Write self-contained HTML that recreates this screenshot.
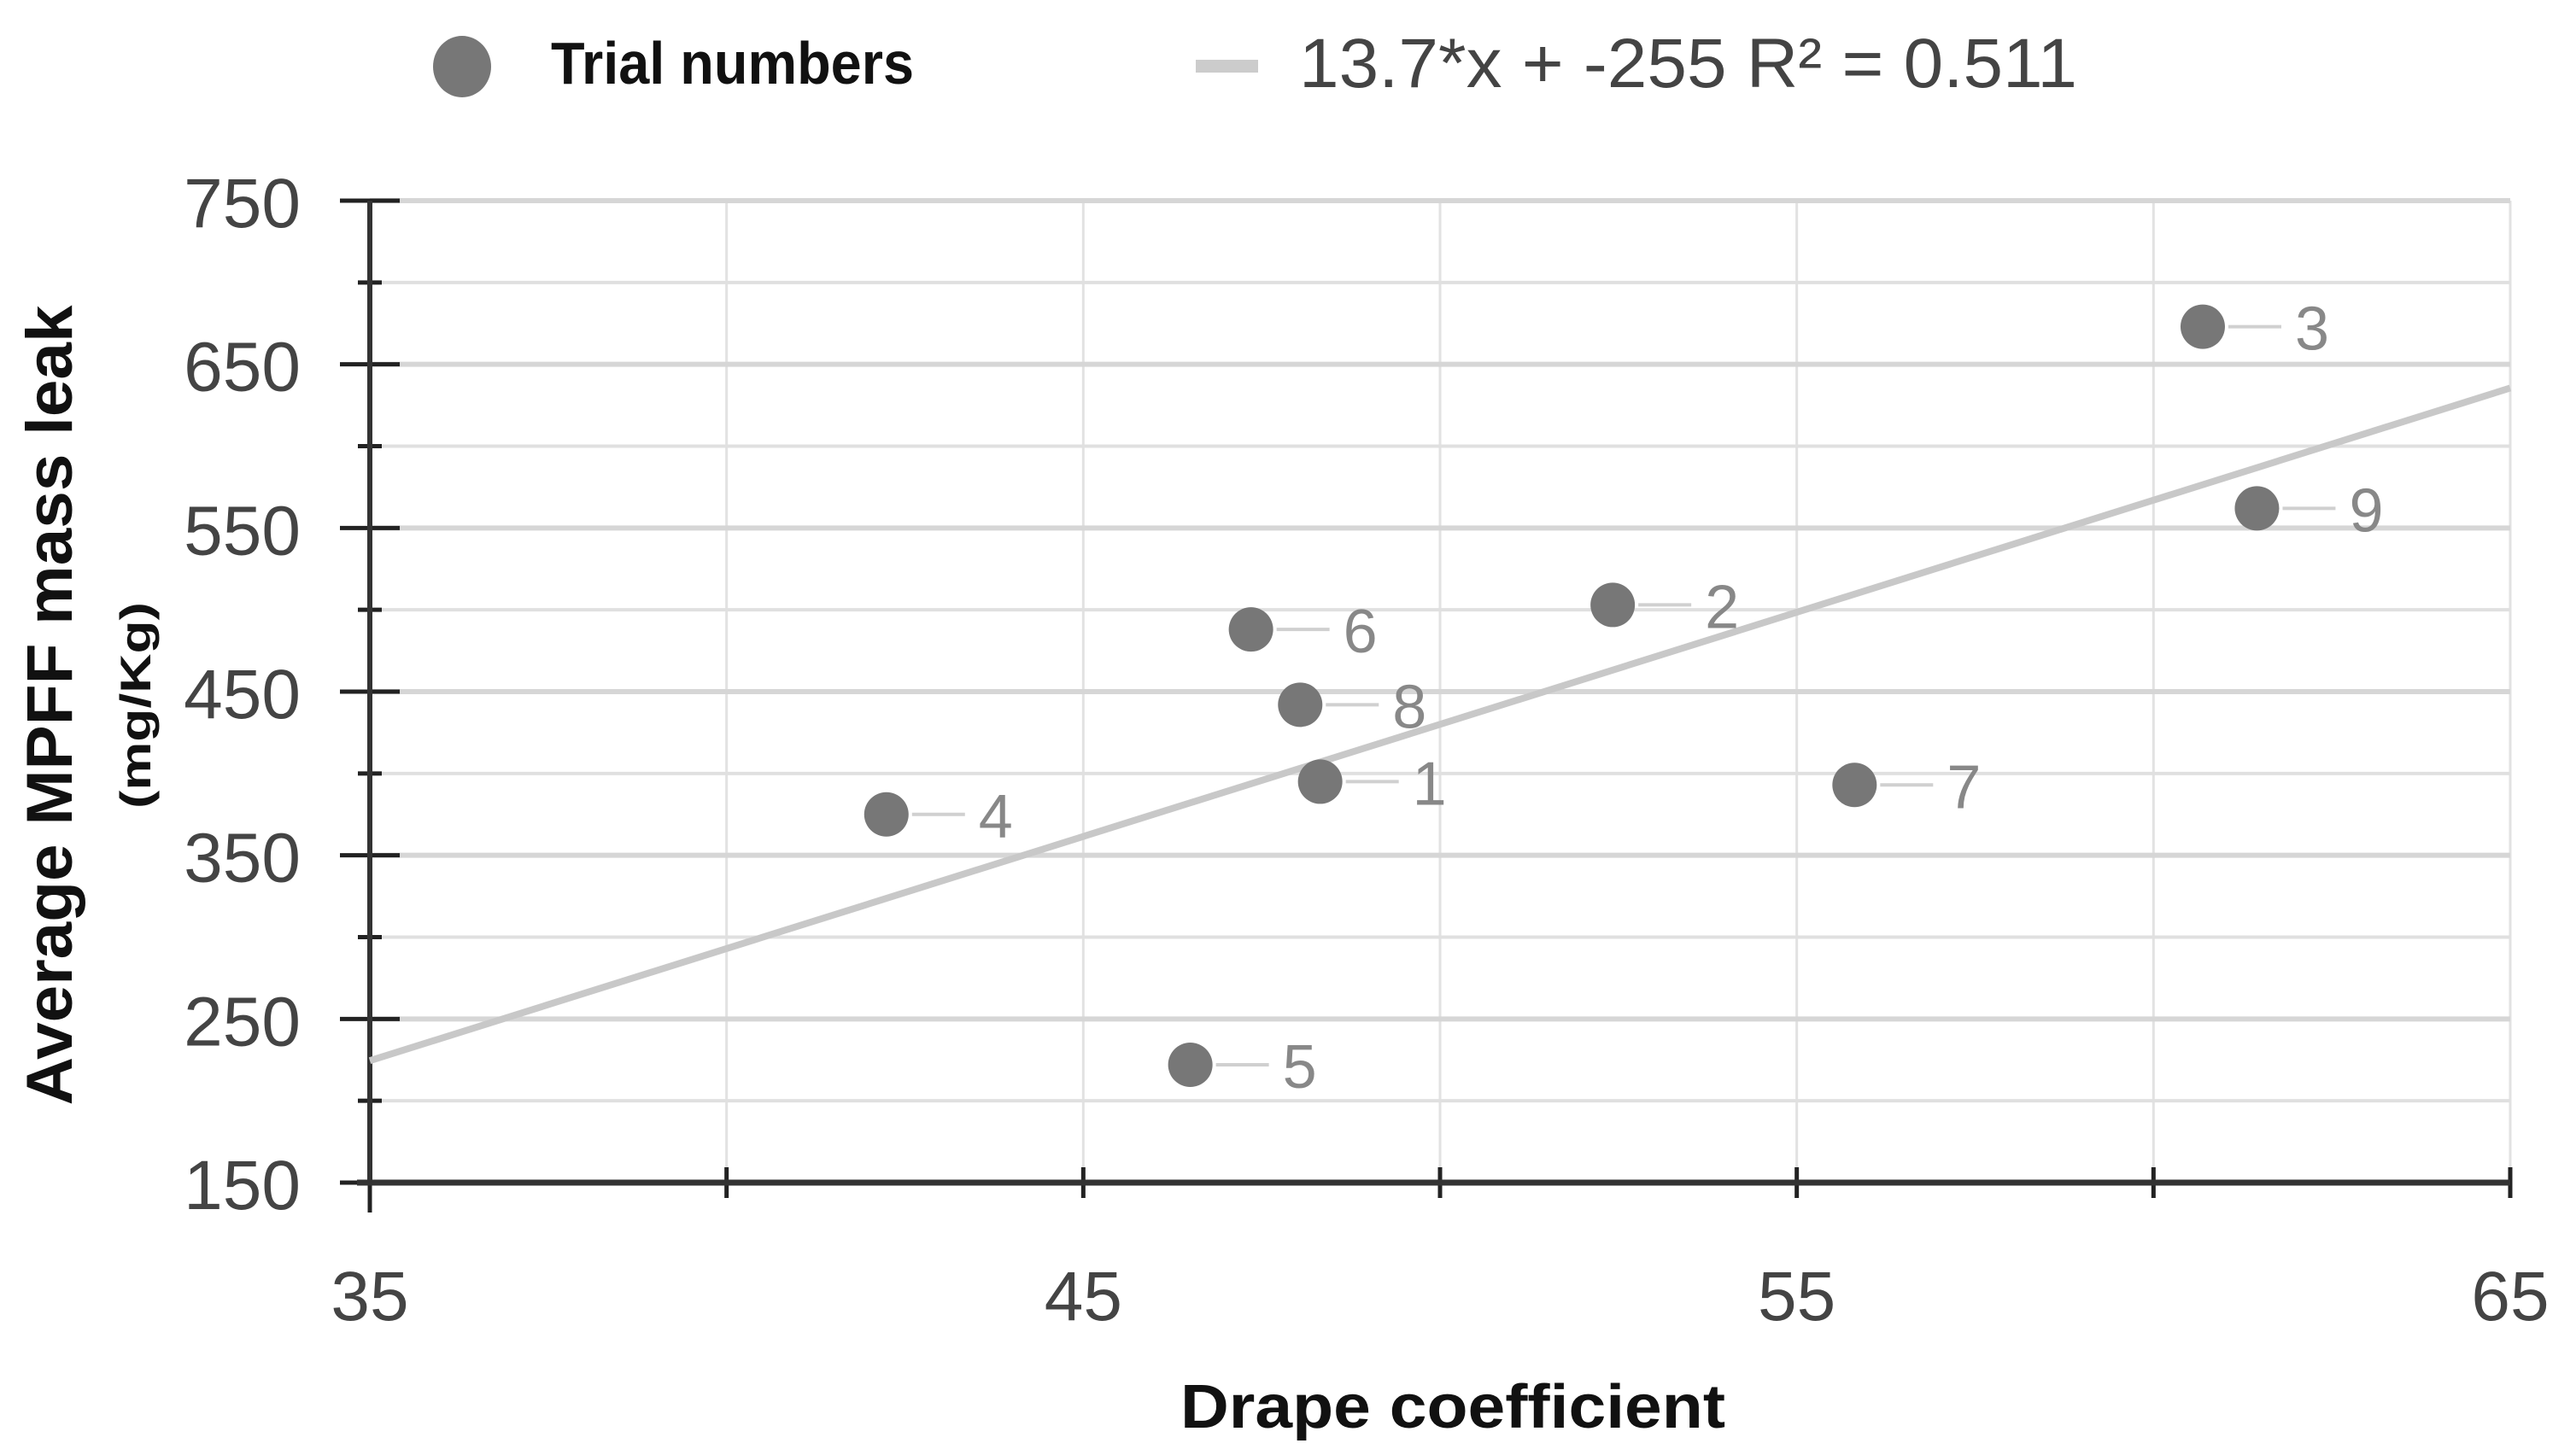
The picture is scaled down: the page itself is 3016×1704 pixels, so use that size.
<!DOCTYPE html>
<html><head><meta charset="utf-8"><style>
html,body{margin:0;padding:0;background:#fff;}
svg{display:block;font-family:"Liberation Sans",sans-serif;}
</style></head><body>
<svg id="chart" width="3016" height="1704" viewBox="0 0 3016 1704" xmlns="http://www.w3.org/2000/svg">
<rect width="3016" height="1704" fill="#fff"/>
<g id="grid"></g>
<g id="axes"></g>
<g id="trend"></g>
<g id="points"></g>
<g>
  <ellipse cx="541" cy="78" rx="34" ry="36" fill="#777"/>
  <text x="645" y="98" font-size="70" font-weight="bold" fill="#111" textLength="425" lengthAdjust="spacingAndGlyphs">Trial numbers</text>
  <rect x="1400" y="70" width="73" height="15" fill="#ccc"/>
  <text x="1521" y="102" font-size="82" fill="#444" textLength="911" lengthAdjust="spacingAndGlyphs">13.7*x + -255 R² = 0.511</text>
</g>
<text transform="translate(84,826) rotate(-90)" text-anchor="middle" font-size="76" font-weight="bold" fill="#111" textLength="937" lengthAdjust="spacingAndGlyphs">Average MPFF mass leak</text>
<text transform="translate(176,826) rotate(-90)" text-anchor="middle" font-size="50" font-weight="bold" fill="#111" textLength="242" lengthAdjust="spacingAndGlyphs">(mg/Kg)</text>
<text x="1701" y="1672" text-anchor="middle" font-size="72" font-weight="bold" fill="#111" textLength="638" lengthAdjust="spacingAndGlyphs">Drape coefficient</text>
</svg>
<script>
const trialLabels = ["1","2","3","4","5","6","7","8","9"];
const drapeValues = [48.32,52.42,60.69,42.24,46.50,47.35,55.81,48.04,61.45];
const leakValues = [395,503,673,375,222,488,393,442,562];
const xTicks = [35,40,45,50,55,60,65];
const xTickLabels = ["35","","45","","55","","65"];
const yTicks = [150,200,250,300,350,400,450,500,550,600,650,700,750];
const yTickLabels = ["150","","250","","350","","450","","550","","650","","750"];
const trendSlope = 13.7;
const trendIntercept = -255;

const NS = "http://www.w3.org/2000/svg";
const X0=433, X1=2939, Y0=1385, Y1=235;
const xMin=35, xMax=65, yMin=150, yMax=750;
function sx(v){return X0+(v-xMin)/(xMax-xMin)*(X1-X0);}
function sy(v){return Y0-(v-yMin)/(yMax-yMin)*(Y0-Y1);}
function mk(tag, attrs, parent){const e=document.createElementNS(NS,tag);for(const k in attrs)e.setAttribute(k,attrs[k]);parent.appendChild(e);return e;}

const grid=document.getElementById('grid');
const axes=document.getElementById('axes');
xTicks.forEach((t,i)=>{
  if(i>0){
    const g=mk('line',{x1:sx(t),x2:sx(t),y1:Y1,y2:Y0,stroke:'#e2e2e2','stroke-width':3},grid);
    
    
  }
  const tk=mk('line',{x1:sx(t),x2:sx(t),y1:Y0-18,y2:(i===0?Y0+35:Y0+18),stroke:'#222','stroke-width':5},axes);
  
  
  if(xTickLabels[i]){
    const tl=mk('text',{x:sx(t),y:1546,'text-anchor':'middle','font-size':82,fill:'#444'},axes);
    tl.textContent=xTickLabels[i];
    
    
  }
});
yTicks.forEach((t,i)=>{
  if(i>0){
    const major = yTickLabels[i]!=="";
    const g=mk('line',{x1:X0,x2:X1,y1:sy(t),y2:sy(t),stroke:major?'#d6d6d6':'#e0e0e0','stroke-width':major?6:4},grid);
    
    
  }
  const major = yTickLabels[i]!=="";
  const tk=mk('line',{x1:major?X0-35:X0-14,x2:X0+(major?35:14),y1:sy(t),y2:sy(t),stroke:'#222','stroke-width':5},axes);
  
  
  if(major){
    const tl=mk('text',{x:352,y:sy(t)+31,'text-anchor':'end','font-size':82,fill:'#444'},axes);
    tl.textContent=yTickLabels[i];
    
    
  }
});
const xa=mk('line',{x1:X0-15,x2:X1,y1:Y0,y2:Y0,stroke:'#333','stroke-width':7},axes);


const ya=mk('line',{x1:X0,x2:X0,y1:Y1,y2:Y0,stroke:'#333','stroke-width':6},axes);



const trend=document.getElementById('trend');
const tl=mk('line',{x1:sx(xMin),y1:sy(trendSlope*xMin+trendIntercept),x2:sx(xMax),y2:sy(trendSlope*xMax+trendIntercept),stroke:'#c8c8c8','stroke-width':8},trend);



const pts=document.getElementById('points');
drapeValues.forEach((d,i)=>{
  const cx=sx(d), cy=sy(leakValues[i]);
  const ld=mk('line',{x1:cx+30,x2:cx+92,y1:cy,y2:cy,stroke:'#d0d0d0','stroke-width':4},pts);
  
  
  const c=mk('circle',{cx:cx,cy:cy,r:26,fill:'#777'},pts);
  
  
  const t=mk('text',{x:cx+108,y:cy+27,'font-size':72,fill:'#888'},pts);
  t.textContent=trialLabels[i];
  
  
});
</script>
</body></html>
